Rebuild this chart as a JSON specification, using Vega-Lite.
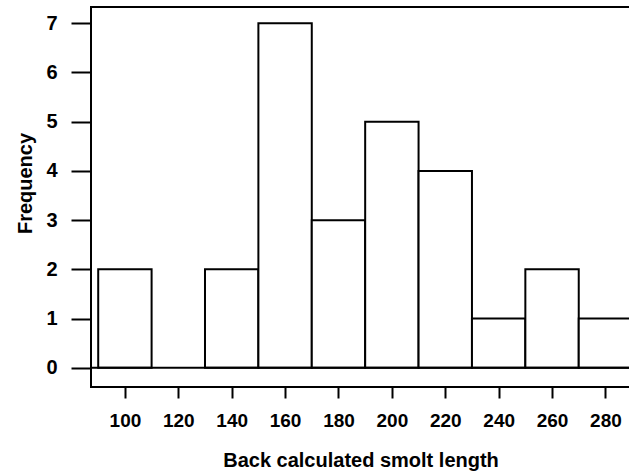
{
  "$schema": "https://vega.github.io/schema/vega-lite/v6.json",
  "autosize": {"type": "none"},
  "width": 539,
  "height": 380,
  "padding": {"left": 91, "top": 7, "right": 0, "bottom": 88},
  "background": "white",
  "config": {
    "font": "Liberation Sans",
    "view": {"stroke": "black", "strokeWidth": 2},
    "axis": {"grid": false, "domain": false, "tickColor": "black", "tickWidth": 2, "labelColor": "black", "titleColor": "black", "labelFont": "Liberation Sans", "titleFont": "Liberation Sans"}
  },
  "layer": [
    {
      "data": {"values": [
        {"bin_start": 90, "bin_end": 110, "count": 2},
        {"bin_start": 130, "bin_end": 150, "count": 2},
        {"bin_start": 150, "bin_end": 170, "count": 7},
        {"bin_start": 170, "bin_end": 190, "count": 3},
        {"bin_start": 190, "bin_end": 210, "count": 5},
        {"bin_start": 210, "bin_end": 230, "count": 4},
        {"bin_start": 230, "bin_end": 250, "count": 1},
        {"bin_start": 250, "bin_end": 270, "count": 2},
        {"bin_start": 270, "bin_end": 290, "count": 1}
      ]},
      "mark": {"type": "bar", "fill": "white", "stroke": "black", "strokeWidth": 2, "clip": true},
      "encoding": {
        "x": {"field": "bin_start", "type": "quantitative",
          "scale": {"domain": [87.3, 289.2], "nice": false, "zero": false},
          "axis": {"values": [100, 120, 140, 160, 180, 200, 220, 240, 260, 280], "tickSize": 11, "labelFontSize": 19, "labelFontWeight": "bold", "labelPadding": 13, "labelFlush": false,
            "title": "Back calculated smolt length", "titleFontSize": 20, "titleFontWeight": "bold", "titleY": 79, "titleBaseline": "alphabetic"}},
        "x2": {"field": "bin_end"},
        "y": {"field": "count", "type": "quantitative",
          "scale": {"domain": [-0.39, 7.33], "nice": false, "zero": false},
          "axis": {"values": [0, 1, 2, 3, 4, 5, 6, 7], "tickSize": 20, "labelFontSize": 20, "labelFontWeight": "bold", "labelPadding": 14, "labelFlush": false,
            "title": "Frequency", "titleFontSize": 20, "titleFontWeight": "bold", "titleAngle": 270, "titleX": -60, "titleY": 176, "titleBaseline": "alphabetic", "titleAlign": "center"}},
        "y2": {"datum": 0}
      }
    },
    {
      "data": {"values": [{"zero": 0}]},
      "mark": {"type": "rule", "color": "black", "strokeWidth": 2},
      "encoding": {"y": {"field": "zero", "type": "quantitative"}}
    }
  ]
}
